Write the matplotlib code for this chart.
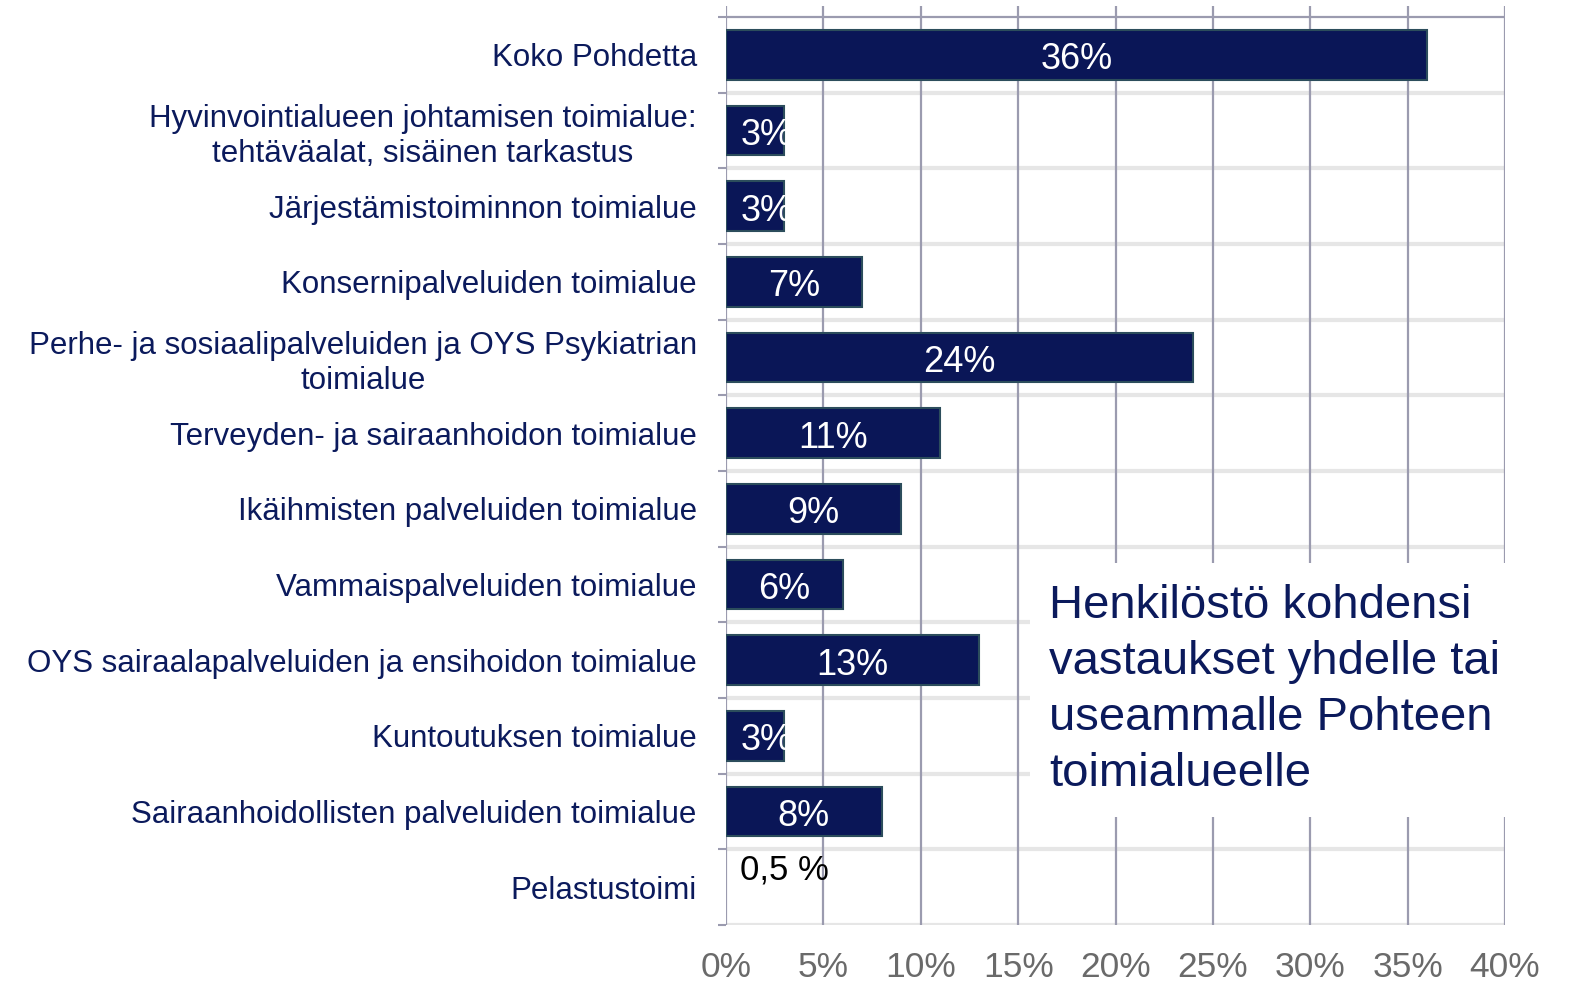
import matplotlib
matplotlib.use("Agg")
import matplotlib.pyplot as plt
import numpy as np
from matplotlib.patches import Rectangle
from matplotlib import transforms

categories = [
    "Koko Pohdetta",
    "Hyvinvointialueen johtamisen toimialue:\ntehtäväalat, sisäinen tarkastus",
    "Järjestämistoiminnon toimialue",
    "Konsernipalveluiden toimialue",
    "Perhe- ja sosiaalipalveluiden ja OYS Psykiatrian\ntoimialue",
    "Terveyden- ja sairaanhoidon toimialue",
    "Ikäihmisten palveluiden toimialue",
    "Vammaispalveluiden toimialue",
    "OYS sairaalapalveluiden ja ensihoidon toimialue",
    "Kuntoutuksen toimialue",
    "Sairaanhoidollisten palveluiden toimialue",
    "Pelastustoimi",
]
values = [36, 3, 3, 7, 24, 11, 9, 6, 13, 3, 8, 0]
bar_labels = ["36%", "3%", "3%", "7%", "24%", "11%", "9%", "6%", "13%", "3%", "8%", ""]
note_value_label = "0,5 %"
note_value_index = 11
xticks = [0, 5, 10, 15, 20, 25, 30, 35, 40]
xtick_labels = ["0%", "5%", "10%", "15%", "20%", "25%", "30%", "35%", "40%"]
note_text = "Henkilöstö kohdensi\nvastaukset yhdelle tai\nuseammalle Pohteen\ntoimialueelle"

NAVY = "#0b1a5c"
BAR = "#0a1657"
BAR_EDGE = "#2c4d5c"
GRID = "#9b9baf"
SEP = "#e6e6e6"

plt.rcParams['font.family'] = ['Liberation Sans', 'DejaVu Sans']

W, H = 1575, 988
fig = plt.figure(figsize=(W / 100, H / 100), dpi=100)
ax = fig.add_axes([726 / W, 1 - 925 / H, (1505 - 726) / W, (925 - 6) / H])

n = len(categories)
y = np.arange(n)
lws = [1.5 if v > 0 else 0 for v in values]
bars = ax.barh(y, values, height=0.66, color=BAR, edgecolor=BAR_EDGE,
               linewidth=lws, zorder=3)

ax.set_xlim(0, 40)
ax.set_ylim(n - 0.5, -0.5 - 11 / 75.7)

# vertical gridlines
ax.set_xticks(xticks)
ax.set_xticklabels(xtick_labels, fontsize=25.5, color="#6a6a6a")
ax.grid(axis="x", color=GRID, linewidth=1.6, zorder=1)
ax.tick_params(axis="x", length=0, pad=19)

# category labels
ax.set_yticks(y)
ax.set_yticklabels(categories, fontsize=22.5, color=NAVY, multialignment="center")
ax.tick_params(axis="y", which="major", length=0, pad=21)
ax.set_yticks(np.arange(-0.5, n, 1), minor=True)
ax.tick_params(axis="y", which="minor", length=6, width=1.5, color=GRID)

for s in ax.spines.values():
    s.set_visible(False)

# separators
for b in np.arange(0.5, n, 1):
    ax.axhline(b, color=SEP, linewidth=3, zorder=1.5)
ax.axhline(-0.5, color=GRID, linewidth=1.6, zorder=1.6)

# bar labels
off_c = transforms.offset_copy(ax.transData, fig=fig, x=0, y=-5, units="dots")
off_l = transforms.offset_copy(ax.transData, fig=fig, x=15, y=-5, units="dots")
for i, (v, lab) in enumerate(zip(values, bar_labels)):
    if not lab:
        continue
    if v >= 5:
        ax.text(v / 2, i, lab, ha="center", va="center", color="white",
                fontsize=26, zorder=4, transform=off_c)
    else:
        t = ax.text(0, i, lab, ha="left", va="center", color="white",
                    fontsize=26, zorder=4, transform=off_l)
        t.set_clip_path(bars[i])

# small value note
off2 = transforms.offset_copy(ax.transData, fig=fig, x=14, y=17, units="dots")
ax.text(0, note_value_index, note_value_label, ha="left", va="center",
        color="black", fontsize=25, transform=off2, zorder=4)

# white box for the comment
ax.add_patch(Rectangle((1030 / W, 1 - 817 / H), (1550 - 1030) / W, (817 - 563) / H,
                       transform=fig.transFigure, facecolor="white",
                       edgecolor="none", clip_on=False, zorder=2.5))
fig.text(1049 / W, 1 - 690 / H, note_text, ha="left", va="center",
         fontsize=34, color=NAVY, linespacing=1.36, zorder=5)

fig.savefig("out.png", dpi=100, facecolor="white")
